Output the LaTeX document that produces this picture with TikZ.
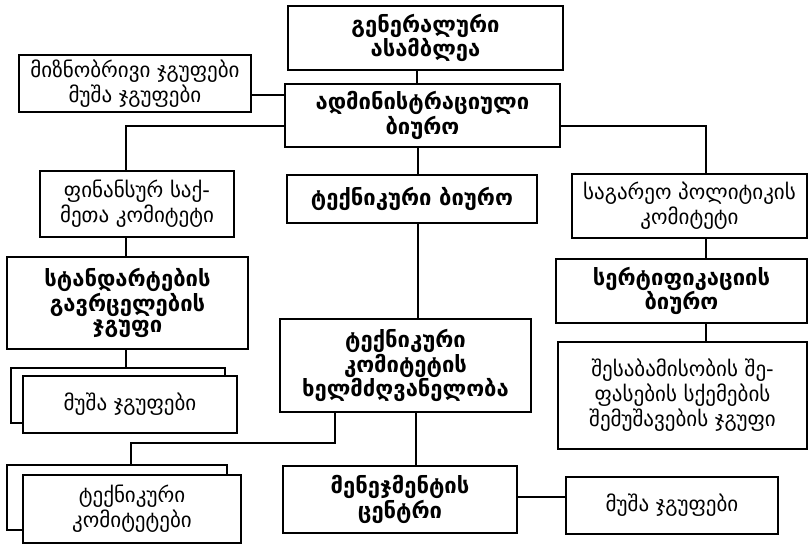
\documentclass[tikz,border=0pt]{standalone}
\usepackage{fontspec}
\setmainfont{DejaVu Sans}
\usepackage{tikz}

\begin{document}
\begin{tikzpicture}[x=1pt,y=-1pt,
 box/.style={draw,line width=1.8pt,fill=white,inner sep=0pt,align=center},
 hd/.style={box,font=\bfseries\fontsize{22}{21}\selectfont},
 tx/.style={box,font=\fontsize{21}{25}\selectfont},
 ln/.style={line width=1.6pt}]
 \useasboundingbox (0,0) rectangle (810,547);
 % top of the tree
 \node[hd,minimum width=275pt,minimum height=64pt] (ga) at (425.5,38) {გენერალური\\ასამბლეა};
 \node[hd,minimum width=275pt,minimum height=63pt] (adm) at (422.5,115.5) {ადმინისტრაციული\\ბიურო};
 \node[tx,minimum width=232pt,minimum height=57pt] (aims) at (135,83.5) {მიზნობრივი ჯგუფები\\მუშა ჯგუფები};
 \draw[ln] (ga.south -| 417,0) -- (adm.north -| 417,0);
 \draw[ln] (aims.east |- 0,95) -- (adm.west |- 0,95);
 % left branch
 \node[tx,minimum width=194pt,minimum height=66pt] (fin) at (137,204) {ფინანსურ საქ-\\მეთა კომიტეტი};
 \node[hd,minimum width=241pt,minimum height=92pt] (std) at (127.5,303) {სტანდარტების\\გავრცელების\\ჯგუფი};
 \node[box,minimum width=214pt,minimum height=55pt] (wgback) at (118,395.5) {};
 \node[tx,minimum width=214pt,minimum height=57pt] (wg) at (130,404.5) {მუშა ჯგუფები};
 \coordinate (jl) at (126,126);
 \draw[ln] (adm.west |- jl) -- (jl) -- (fin.north -| jl);
 \draw[ln] (fin.south -| jl) -- (std.north -| jl);
 \draw[ln] (std.south -| jl) -- (wgback.north -| jl);
 % middle branch
 \node[hd,minimum width=250pt,minimum height=48pt] (tb) at (412,199) {ტექნიკური ბიურო};
 \node[hd,minimum width=251pt,minimum height=93pt] (tm) at (405.5,365.5) {ტექნიკური\\კომიტეტის\\ხელმძღვანელობა};
 \node[hd,minimum width=234pt,minimum height=67pt] (mc) at (400,499.5) {მენეჯმენტის\\ცენტრი};
 \node[tx,minimum width=212pt,minimum height=57pt] (wg2) at (672,505.5) {მუშა ჯგუფები};
 \node[box,minimum width=220pt,minimum height=65pt] (tcback) at (117,497.5) {};
 \node[tx,minimum width=218pt,minimum height=68pt] (tc) at (132,509) {ტექნიკური\\კომიტეტები};
 \draw[ln] (adm.south -| 418,0) -- (tb.north -| 418,0);
 \draw[ln] (tb.south -| 418,0) -- (tm.north -| 418,0);
 \draw[ln] (tm.south -| 416,0) -- (mc.north -| 416,0);
 \coordinate (jm) at (335,443);
 \coordinate (jt) at (131,443);
 \draw[ln] (tm.south -| jm) -- (jm) -- (jt) -- (tcback.north -| jt);
 \draw[ln] (mc.east |- 0,497) -- (wg2.west |- 0,497);
 % right branch
 \node[tx,minimum width=235pt,minimum height=64pt] (fp) at (689.5,206) {საგარეო პოლიტიკის\\კომიტეტი};
 \node[hd,minimum width=251pt,minimum height=64pt] (cert) at (681.5,291) {სერტიფიკაციის\\ბიურო};
 \node[tx,minimum width=249pt,minimum height=107pt] (conf) at (682.5,395.5) {შესაბამისობის შე-\\ფასების სქემების\\შემუშავების ჯგუფი};
 \coordinate (jr) at (706,126);
 \draw[ln] (adm.east |- jr) -- (jr) -- (fp.north -| jr);
 \draw[ln] (fp.south -| jr) -- (cert.north -| jr);
 \draw[ln] (cert.south -| jr) -- (conf.north -| jr);
\end{tikzpicture}
\end{document}
